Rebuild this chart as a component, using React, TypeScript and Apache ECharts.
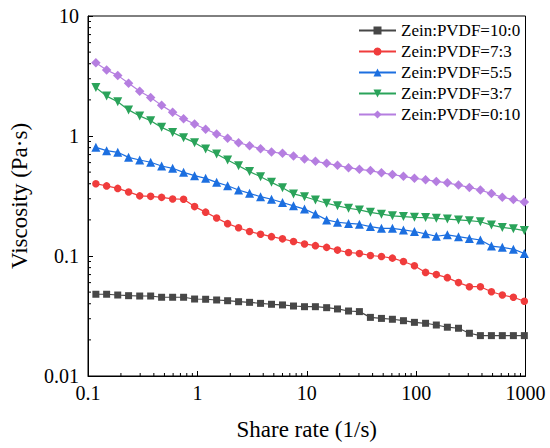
import React, { useEffect, useRef } from "react";
import * as echarts from "echarts";

const shearRate = [0.118, 0.148, 0.187, 0.235, 0.297, 0.374, 0.471, 0.594, 0.748, 0.943, 1.19, 1.5, 1.89, 2.38, 3.0, 3.78, 4.76, 6.0, 7.57, 9.54, 12.0, 15.2, 19.1, 24.1, 30.3, 38.2, 48.2, 60.7, 76.6, 96.5, 122, 153, 193, 244, 307, 387, 488, 614, 775, 976];

const s10_0 = [0.048, 0.048, 0.0473, 0.0467, 0.0464, 0.0464, 0.0453, 0.0453, 0.0453, 0.0438, 0.0436, 0.043, 0.0424, 0.0416, 0.0411, 0.0403, 0.0396, 0.0391, 0.0383, 0.0378, 0.0378, 0.0371, 0.0362, 0.0348, 0.0344, 0.0308, 0.0302, 0.0297, 0.0289, 0.028, 0.0275, 0.0266, 0.0255, 0.025, 0.0227, 0.0217, 0.0217, 0.0217, 0.0217, 0.0217];
const s7_3 = [0.4, 0.384, 0.366, 0.342, 0.317, 0.314, 0.308, 0.299, 0.297, 0.258, 0.232, 0.207, 0.186, 0.172, 0.16, 0.152, 0.145, 0.139, 0.132, 0.126, 0.122, 0.118, 0.112, 0.107, 0.105, 0.101, 0.099, 0.096, 0.09, 0.083, 0.073, 0.07, 0.066, 0.06, 0.0555, 0.0555, 0.0504, 0.0473, 0.0453, 0.042];
const s5_5 = [0.805, 0.755, 0.731, 0.664, 0.631, 0.604, 0.562, 0.538, 0.498, 0.467, 0.444, 0.411, 0.385, 0.355, 0.333, 0.312, 0.297, 0.279, 0.262, 0.246, 0.224, 0.2, 0.191, 0.187, 0.184, 0.176, 0.17, 0.17, 0.165, 0.16, 0.153, 0.146, 0.15, 0.145, 0.14, 0.136, 0.121, 0.118, 0.114, 0.105];
const s3_7 = [2.54, 2.15, 1.93, 1.65, 1.47, 1.34, 1.18, 1.07, 0.969, 0.88, 0.779, 0.708, 0.631, 0.566, 0.505, 0.458, 0.411, 0.37, 0.329, 0.312, 0.293, 0.275, 0.262, 0.25, 0.242, 0.231, 0.223, 0.216, 0.213, 0.21, 0.209, 0.206, 0.203, 0.2, 0.197, 0.193, 0.181, 0.173, 0.169, 0.163];
const s0_10 = [4.08, 3.55, 3.2, 2.75, 2.36, 2.09, 1.8, 1.58, 1.39, 1.26, 1.14, 1.04, 0.957, 0.88, 0.83, 0.784, 0.736, 0.717, 0.681, 0.643, 0.615, 0.592, 0.57, 0.545, 0.528, 0.515, 0.493, 0.478, 0.461, 0.444, 0.432, 0.418, 0.407, 0.39, 0.373, 0.355, 0.331, 0.309, 0.295, 0.282];

const seriesNames = ["Zein:PVDF=10:0", "Zein:PVDF=7:3", "Zein:PVDF=5:5", "Zein:PVDF=3:7", "Zein:PVDF=0:10"];

const xTickValues = [0.1, 1, 10, 100, 1000];
const xTickLabels = ["0.1", "1", "10", "100", "1000"];
const yTickValues = [0.01, 0.1, 1, 10];
const yTickLabels = ["0.01", "0.1", "1", "10"];

const xMinorTicks = [0.2, 0.3, 0.4, 0.5, 0.6, 0.7, 0.8, 0.9, 2, 3, 4, 5, 6, 7, 8, 9, 20, 30, 40, 50, 60, 70, 80, 90, 200, 300, 400, 500, 600, 700, 800, 900];
const yMinorTicks = [0.02, 0.03, 0.04, 0.05, 0.06, 0.07, 0.08, 0.09, 0.2, 0.3, 0.4, 0.5, 0.6, 0.7, 0.8, 0.9, 2, 3, 4, 5, 6, 7, 8, 9];

const FONT = "Liberation Serif";
const X_MIN = 0.1;
const Y_MIN = 0.01;

export default function App() {
  const ref = useRef<HTMLDivElement>(null);
  useEffect(() => {
    if (!ref.current) return;
    const chart = echarts.init(ref.current, undefined, { renderer: "svg" });
    const styles = [
      { data: s10_0, color: "#474747", symbol: "rect", size: 7, rotate: 0 },
      { data: s7_3, color: "#f03c3c", symbol: "circle", size: 7.5, rotate: 0 },
      { data: s5_5, color: "#1c6fe0", symbol: "triangle", size: 9, rotate: 0 },
      { data: s3_7, color: "#2aa35a", symbol: "triangle", size: 9, rotate: 180 },
      { data: s0_10, color: "#b57ee0", symbol: "diamond", size: 9.5, rotate: 0 },
    ];
    const legendText = { fontFamily: FONT, fontSize: 17, color: "#000", lineHeight: 21, fontWeight: "normal" };
    const lineSeries = styles.map((s, i) => ({
      name: seriesNames[i],
      type: "line",
      data: shearRate.map((x, j) => [x, s.data[j]]),
      symbol: s.symbol,
      symbolSize: s.size,
      symbolRotate: s.rotate,
      showAllSymbol: true,
      itemStyle: { color: s.color },
      lineStyle: { color: s.color, width: 1.2 },
      z: 3 + i,
    }));
    const tickLine = (dx: number, dy: number) => (_p: any, api: any) => {
      const pt = api.coord([api.value(0), api.value(1)]);
      return {
        type: "line",
        shape: { x1: pt[0], y1: pt[1], x2: pt[0] + dx, y2: pt[1] + dy },
        style: { stroke: "#000", lineWidth: 1 },
      };
    };
    const minorX = {
      type: "custom",
      silent: true,
      clip: false,
      z: 10,
      data: xMinorTicks.map((v) => [v, Y_MIN]),
      renderItem: tickLine(0, -3),
    };
    const minorY = {
      type: "custom",
      silent: true,
      clip: false,
      z: 10,
      data: yMinorTicks.map((v) => [X_MIN, v]),
      renderItem: tickLine(3, 0),
    };
    const xLabelSeries = {
      type: "custom",
      silent: true,
      clip: false,
      z: 10,
      data: xTickValues.map((v) => [v, Y_MIN]),
      renderItem: (p: any, api: any) => {
        const pt = api.coord([api.value(0), api.value(1)]);
        return {
          type: "text",
          x: pt[0],
          y: pt[1] + 7,
          style: {
            text: xTickLabels[p.dataIndex],
            fontFamily: FONT,
            fontSize: 20,
            fill: "#000",
            align: "center",
            verticalAlign: "top",
          },
        };
      },
    };
    const yLabelSeries = {
      type: "custom",
      silent: true,
      clip: false,
      z: 10,
      data: yTickValues.map((v) => [X_MIN, v]),
      renderItem: (p: any, api: any) => {
        const pt = api.coord([api.value(0), api.value(1)]);
        return {
          type: "text",
          x: pt[0] - 9,
          y: pt[1],
          style: {
            text: yTickLabels[p.dataIndex],
            fontFamily: FONT,
            fontSize: 20,
            fill: "#000",
            align: "right",
            verticalAlign: "middle",
          },
        };
      },
    };
    chart.setOption({
      animation: false,
      textStyle: { fontFamily: FONT },
      grid: {
        left: 77.5,
        top: 16,
        width: 448,
        height: 360,
        show: true,
        borderColor: "#000",
        borderWidth: 1,
        backgroundColor: "transparent",
      },
      legend: {
        data: seriesNames.map((n) => ({ name: n, textStyle: legendText })),
        orient: "vertical",
        left: 353,
        top: 15,
        itemWidth: 37,
        itemHeight: 10,
        itemGap: 0,
        textStyle: legendText,
      },
      xAxis: {
        type: "log",
        logBase: 10,
        min: X_MIN,
        max: 1000,
        name: "Share rate (1/s)",
        nameLocation: "middle",
        nameGap: 42,
        nameTextStyle: { fontFamily: FONT, fontSize: 23, color: "#000" },
        axisLine: { show: true, lineStyle: { color: "#000", width: 1 } },
        axisTick: { show: true, inside: true, length: 5, lineStyle: { color: "#000" } },
        axisLabel: { show: false },
        splitLine: { show: false },
      },
      yAxis: {
        type: "log",
        logBase: 10,
        min: Y_MIN,
        max: 10,
        name: "Viscosity (Pa·s)",
        nameLocation: "middle",
        nameGap: 57,
        nameTextStyle: { fontFamily: FONT, fontSize: 23, color: "#000" },
        axisLine: { show: true, lineStyle: { color: "#000", width: 1 } },
        axisTick: { show: true, inside: true, length: 5, lineStyle: { color: "#000" } },
        axisLabel: { show: false },
        splitLine: { show: false },
      },
      series: [...lineSeries, minorX, minorY, xLabelSeries, yLabelSeries],
    });
    return () => chart.dispose();
  }, []);
  return (
    <div
      ref={ref}
      style={{ position: "fixed", left: 0, top: 0, width: 550, height: 448, background: "#fff" }}
    />
  );
}
